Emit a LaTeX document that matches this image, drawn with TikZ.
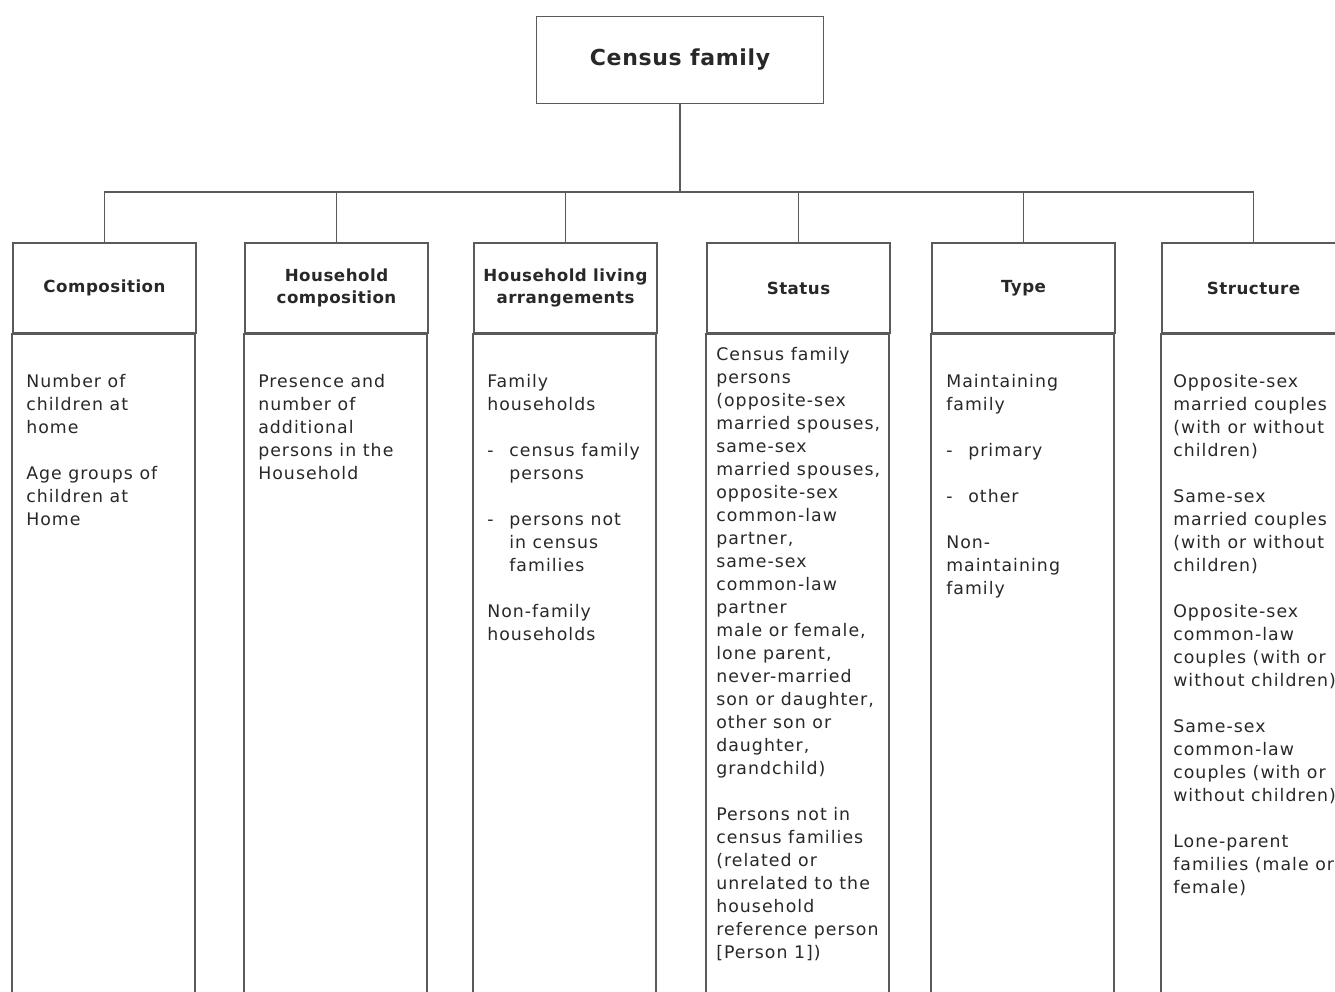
\documentclass[tikz,border=0pt]{standalone}
\usepackage{fontspec}
\setmainfont{DejaVu Sans}[LetterSpace=6]
\definecolor{line}{RGB}{90,90,90}
\definecolor{ink}{RGB}{40,40,40}

\begin{document}
\begin{tikzpicture}[x=0.75pt, y=-0.75pt,
    box/.style={draw=line, line width=1.2pt, rectangle, inner sep=0pt,
        minimum width=137.25pt, minimum height=67.5pt},
    head/.style={box, align=center, text=ink,
        font=\bfseries\fontsize{12.5}{16.5}\selectfont\addfontfeature{LetterSpace=3}},
    body/.style={anchor=north west, inner sep=0pt, align=left, text=ink,
        font=\fontsize{13}{17.25}\selectfont},
    link/.style={draw=line, line width=1.2pt}]
    \clip (0,0) rectangle (1335,992);

    \node[box, minimum width=215.25pt, minimum height=65.25pt, text=ink,
        font=\bfseries\fontsize{16.5}{18}\selectfont\addfontfeature{LetterSpace=3}] (title) at (680,60) {Census family};

    \node[head] (comp) at (104.5,288) {Composition};
    \node[head] (hcomp) at (336.5,288) {Household\\composition};
    \node[head] (living) at (565.5,288) {Household living\\arrangements};
    \node[head] (status) at (798.5,288) {Status};
    \node[head] (type) at (1023.5,288) {Type};
    \node[head] (struct) at (1253.5,288) {Structure};

    % column bodies
    \foreach \n in {comp,hcomp,living,status,type,struct}
        \draw[link] (\n.south west) rectangle ++(183,700);

    % connectors
    \coordinate (bar) at (680,192);
    \draw[link] (title.south) -- (bar);
    \draw[link] (comp.north) |- (struct.north |- bar) -- (struct.north);
    \foreach \n in {hcomp,living,status,type}
        \draw[link] (\n.north) -- (\n.north |- bar);

    \node[body] (comp-txt) at (26,374) {Number of\\children at\\home\\[17.25pt]Age groups of\\children at\\Home};
    \node[body] (hcomp-txt) at (258,374) {Presence and\\number of\\additional\\persons in the\\Household};
    \node[body] (living-txt) at (487,374) {Family\\households\\[17.25pt]
        \makebox[16.5pt][l]{-}census family\\\hspace*{16.5pt}persons\\[17.25pt]
        \makebox[16.5pt][l]{-}persons not\\\hspace*{16.5pt}in census\\\hspace*{16.5pt}families\\[17.25pt]
        Non-family\\households};
    \node[body] (status-txt) at (716,347) {Census family\\persons\\(opposite-sex\\married spouses,\\same-sex\\married spouses,\\opposite-sex\\common-law\\partner,\\same-sex\\common-law\\partner\\male or female,\\lone parent,\\never-married\\son or daughter,\\other son or\\daughter,\\grandchild)\\[17.25pt]
        Persons not in\\census families\\(related or\\unrelated to the\\household\\reference person\\{[}Person 1{]})};
    \node[body] (type-txt) at (946,374) {Maintaining\\family\\[17.25pt]
        \makebox[16.5pt][l]{-}primary\\[17.25pt]\makebox[16.5pt][l]{-}other\\[17.25pt]
        Non-\\maintaining\\family};
    \node[body] (struct-txt) at (1173,374) {Opposite-sex\\married couples\\(with or without\\children)\\[17.25pt]
        Same-sex\\married couples\\(with or without\\children)\\[17.25pt]
        Opposite-sex\\common-law\\couples (with or\\without children)\\[17.25pt]
        Same-sex\\common-law\\couples (with or\\without children)\\[17.25pt]
        Lone-parent\\families (male or\\female)};

\end{tikzpicture}
\end{document}
